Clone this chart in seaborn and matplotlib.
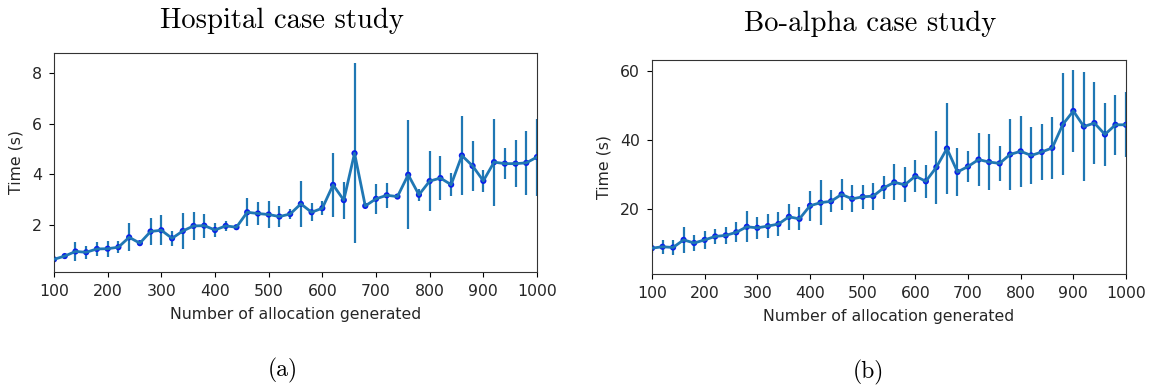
import matplotlib
matplotlib.use("Agg")
import matplotlib.pyplot as plt
import numpy as np
import pandas as pd
import seaborn as sns

# Number of allocations generated (shared x values for both studies)
n_alloc = [100, 120, 140, 160, 180, 200, 220, 240, 260, 280,
           300, 320, 340, 360, 380, 400, 420, 440, 460, 480,
           500, 520, 540, 560, 580, 600, 620, 640, 660, 680,
           700, 720, 740, 760, 780, 800, 820, 840, 860, 880,
           900, 920, 940, 960, 980, 1000]

# Hospital case study: mean time (s) and error half-width
hospital_time = [0.64, 0.77, 0.95, 0.92, 1.05, 1.06, 1.12, 1.51, 1.28, 1.74,
                 1.79, 1.47, 1.76, 1.96, 1.97, 1.80, 1.96, 1.91, 2.50, 2.45,
                 2.41, 2.33, 2.43, 2.83, 2.50, 2.66, 3.58, 2.98, 4.83, 2.75,
                 3.03, 3.17, 3.12, 3.98, 3.19, 3.73, 3.85, 3.59, 4.74, 4.33,
                 3.74, 4.48, 4.42, 4.42, 4.45, 4.68]
hospital_err = [0.08, 0.10, 0.37, 0.26, 0.26, 0.31, 0.23, 0.55, 0.10, 0.52,
                0.60, 0.30, 0.71, 0.56, 0.47, 0.26, 0.19, 0.10, 0.56, 0.46,
                0.53, 0.42, 0.20, 0.92, 0.35, 0.28, 1.27, 0.73, 3.55, 0.10,
                0.58, 0.49, 0.10, 2.15, 0.23, 1.17, 0.86, 0.45, 1.57, 0.99,
                0.43, 1.72, 0.62, 0.94, 1.26, 1.52]

# Bo-alpha case study: mean time (s) and error half-width
boalpha_time = [8.7, 9.1, 8.9, 11.1, 10.2, 11.1, 12.1, 12.4, 13.3, 14.9,
                14.6, 15.1, 15.7, 17.8, 17.2, 21.0, 21.9, 22.3, 24.3, 23.0,
                23.6, 23.8, 26.2, 27.8, 27.1, 29.6, 28.1, 32.2, 37.6, 30.8,
                32.4, 34.4, 33.7, 33.3, 35.9, 36.8, 35.6, 36.6, 37.8, 44.6,
                48.5, 44.0, 45.0, 41.7, 44.5, 44.5]
boalpha_err = [1.5, 2.05, 2.2, 3.8, 2.2, 2.55, 2.1, 2.5, 2.9, 4.5,
               3.1, 3.45, 3.6, 3.8, 3.35, 4.4, 6.5, 3.2, 4.4, 3.9,
               3.4, 3.9, 3.3, 5.2, 5.1, 4.6, 4.8, 10.6, 13.1, 6.9,
               4.6, 7.6, 8.0, 5.0, 10.2, 10.3, 8.4, 8.2, 8.9, 14.8,
               11.8, 15.7, 11.9, 9.2, 8.7, 9.4]

line_color = "#1f77b4"
dot_color = "#0a1fe8"
text_color = "#262626"
serif = "cmr10"
fs = 11.3

fig = plt.figure(figsize=(11.5, 3.88), dpi=100)
ax_a = fig.add_axes([54 / 1150, 1 - 272 / 388, 483 / 1150, 219 / 388])
ax_b = fig.add_axes([652 / 1150, 1 - 274 / 388, 474 / 1150, 214 / 388])


def draw_panel(ax, times, errs, ylim):
    df = pd.DataFrame({"n": n_alloc, "t": times, "e": errs})
    ax.errorbar(df["n"], df["t"], yerr=df["e"], fmt="none",
                ecolor=line_color, elinewidth=1.6, zorder=1)
    sns.scatterplot(data=df, x="n", y="t", ax=ax, color=dot_color,
                    s=20, edgecolor="none", zorder=2)
    sns.lineplot(data=df, x="n", y="t", ax=ax, color=line_color,
                 linewidth=2, zorder=3)
    ax.set_xlim(100, 1000)
    ax.set_ylim(*ylim)
    ax.set_xticks(range(100, 1001, 100))
    ax.set_xlabel("Number of allocation generated", fontsize=fs,
                  labelpad=6, color=text_color)
    ax.set_ylabel("Time (s)", fontsize=fs, labelpad=6, color=text_color)
    ax.tick_params(labelsize=fs, pad=5, labelcolor=text_color)
    for sp in ax.spines.values():
        sp.set_color("#333333")


draw_panel(ax_a, hospital_time, hospital_err, (0.14, 8.79))
ax_a.set_yticks([2, 4, 6, 8])
draw_panel(ax_b, boalpha_time, boalpha_err, (1.2, 63.3))
ax_b.set_yticks([20, 40, 60])

fig.text(282 / 1150, 1 - 21 / 388, "Hospital case study", family=serif,
         fontsize=20.6, ha="center", va="center")
fig.text(870 / 1150, 1 - 24 / 388, "Bo-alpha case study", family=serif,
         fontsize=20.6, ha="center", va="center")
fig.text(283 / 1150, 1 - 370 / 388, "(a)", family=serif,
         fontsize=17, ha="center", va="center")
fig.text(868 / 1150, 1 - 372 / 388, "(b)", family=serif,
         fontsize=17, ha="center", va="center")

fig.savefig("out.png", dpi=100)
